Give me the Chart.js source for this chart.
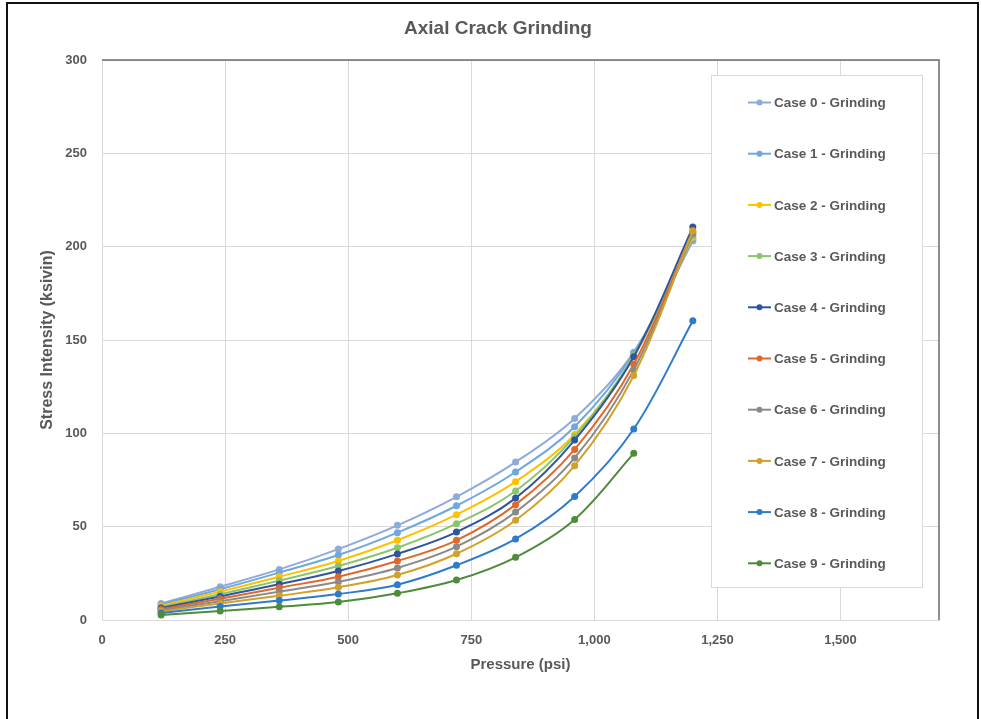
<!DOCTYPE html>
<html>
<head>
<meta charset="utf-8">
<title>Axial Crack Grinding</title>
<script src="https://cdn.jsdelivr.net/npm/chart.js@4.4.1/dist/chart.umd.min.js"></script>
<style>
    html, body { margin: 0; padding: 0; background: #fff; }
    #wrap { position: relative; width: 981px; height: 719px; overflow: hidden; }
    #chart { position: absolute; left: 0; top: 0; }
    #frame {
        position: absolute; left: 6px; top: 2px; width: 969px; height: 730px;
        border: 2px solid #111; pointer-events: none;
    }
</style>
</head>
<body>
<div id="wrap">
    <canvas id="chart" width="981" height="719"></canvas>
    <div id="frame"></div>
</div>
<script>
// Pressure values (psi) shared by every case
var pressure = [120, 240, 360, 480, 600, 720, 840, 960, 1080, 1200];

// Stress intensity (ksi√in), one array per case
var case0 = [8.9, 17.8, 27.1, 38.0, 50.7, 66.0, 84.6, 108.0, 143.5, 203];
var case1 = [8.3, 16.5, 25.4, 34.8, 46.8, 61.2, 79.3, 103.5, 143, 204];
var case2 = [7.6, 15.2, 23.2, 31.6, 42.7, 56.4, 74.1, 99.4, 141, 205];
var case3 = [7.0, 13.8, 21.1, 28.9, 38.7, 51.6, 69.1, 98.2, 141.5, 206];
var case4 = [6.4, 12.6, 19.1, 26.2, 35.4, 47.1, 65.3, 96.4, 141, 210.5];
var case5 = [5.8, 11.4, 17.3, 23.2, 31.6, 42.7, 61.8, 91.4, 137, 208];
var case6 = [5.2, 10.1, 15.2, 20.5, 27.9, 39.3, 57.8, 86.8, 134, 207];
var case7 = [4.6, 8.9, 13.0, 17.5, 24.1, 35.5, 53.4, 82.7, 131, 208.5];
var case8 = [3.7, 7.2, 10.4, 13.9, 18.9, 29.3, 43.4, 66.2, 102.3, 160.3];
var case9 = [2.7, 4.8, 7.1, 9.6, 14.3, 21.4, 33.6, 53.9, 89.3];

var caseNames = [
    "Case 0 - Grinding", "Case 1 - Grinding", "Case 2 - Grinding", "Case 3 - Grinding",
    "Case 4 - Grinding", "Case 5 - Grinding", "Case 6 - Grinding", "Case 7 - Grinding",
    "Case 8 - Grinding", "Case 9 - Grinding"
];
var caseValues = [case0, case1, case2, case3, case4, case5, case6, case7, case8, case9];
var caseColors = [
    "#8FAADC", "#6FA8DC", "#FFC000", "#8BC46A", "#2F55A0",
    "#E2682A", "#8A8A8A", "#D3A02A", "#2E7BCB", "#4E8B3A"
];

var xTicks = [0, 250, 500, 750, 1000, 1250, 1500];

var textColor = "#595959";
var fontFamily = "'Liberation Sans', Arial, sans-serif";

var datasets = [];
for (var i = 0; i < caseValues.length; i++) {
    var pts = [];
    for (var j = 0; j < caseValues[i].length; j++) {
        pts.push({ x: pressure[j], y: caseValues[i][j] });
    }
    datasets.push({
        label: caseNames[i],
        data: pts,
        borderColor: caseColors[i],
        backgroundColor: caseColors[i],
        borderWidth: 2,
        pointRadius: 3.5,
        pointBorderWidth: 0,
        tension: 0.35,
        fill: false
    });
}
// first case drawn on top, as in the sheet
datasets.reverse();

// title, plot frame and boxed legend are drawn by hand
var decorPlugin = {
    id: "decor",
    afterDraw: function (chart) {
        var ctx = chart.ctx;
        var area = chart.chartArea;
        ctx.save();

        // dark top/right edge of the plot area
        ctx.strokeStyle = "#6b6b6b";
        ctx.lineWidth = 1.5;
        ctx.beginPath();
        ctx.moveTo(area.left, area.top);
        ctx.lineTo(area.right, area.top);
        ctx.lineTo(area.right, area.bottom);
        ctx.stroke();

        // title
        ctx.fillStyle = textColor;
        ctx.font = "bold 19px " + fontFamily;
        ctx.textAlign = "center";
        ctx.textBaseline = "middle";
        ctx.fillText("Axial Crack Grinding", 498, 29);

        // legend box
        ctx.fillStyle = "#fff";
        ctx.fillRect(711, 75, 211, 512);
        ctx.strokeStyle = "#D9D9D9";
        ctx.lineWidth = 1;
        ctx.strokeRect(711.5, 75.5, 211, 512);

        ctx.font = "bold 13.5px " + fontFamily;
        ctx.textAlign = "left";
        for (var k = 0; k < caseNames.length; k++) {
            var y = 102.5 + k * 51.2;
            ctx.strokeStyle = caseColors[k];
            ctx.lineWidth = 2;
            ctx.beginPath();
            ctx.moveTo(748, y);
            ctx.lineTo(771, y);
            ctx.stroke();
            ctx.fillStyle = caseColors[k];
            ctx.beginPath();
            ctx.arc(759.5, y, 3, 0, Math.PI * 2);
            ctx.fill();
            ctx.fillStyle = textColor;
            ctx.fillText(caseNames[k], 774, y + 1);
        }
        ctx.restore();
    }
};

new Chart(document.getElementById("chart"), {
    type: "line",
    data: { datasets: datasets },
    options: {
        responsive: false,
        animation: false,
        layout: { padding: { left: 0, right: 42, top: 60, bottom: 0 } },
        plugins: {
            legend: { display: false },
            title: { display: false },
            tooltip: { enabled: false }
        },
        scales: {
            x: {
                type: "linear",
                min: 0,
                max: 1700,
                afterBuildTicks: function (scale) {
                    scale.ticks = xTicks.map(function (v) { return { value: v }; });
                },
                afterFit: function (scale) { scale.height = 99; },
                grid: { color: "#D9D9D9", drawTicks: false },
                border: { color: "#D9D9D9" },
                ticks: {
                    padding: 13,
                    color: textColor,
                    font: { family: fontFamily, size: 13, weight: "bold" }
                },
                title: {
                    display: true,
                    text: "Pressure (psi)",
                    color: textColor,
                    font: { family: fontFamily, size: 15, weight: "bold" },
                    padding: { top: 0, bottom: 45 }
                }
            },
            y: {
                min: 0,
                max: 300,
                afterFit: function (scale) { scale.width = 102; },
                grid: { color: "#D9D9D9", drawTicks: false },
                border: { color: "#D9D9D9" },
                ticks: {
                    stepSize: 50,
                    padding: 15,
                    color: textColor,
                    font: { family: fontFamily, size: 13, weight: "bold" }
                },
                title: {
                    display: true,
                    text: "Stress Intensity (ksivin)",
                    color: textColor,
                    font: { family: fontFamily, size: 16, weight: "bold" },
                    padding: { top: 38.4, bottom: 0 }
                }
            }
        }
    },
    plugins: [decorPlugin]
});
</script>
</body>
</html>
